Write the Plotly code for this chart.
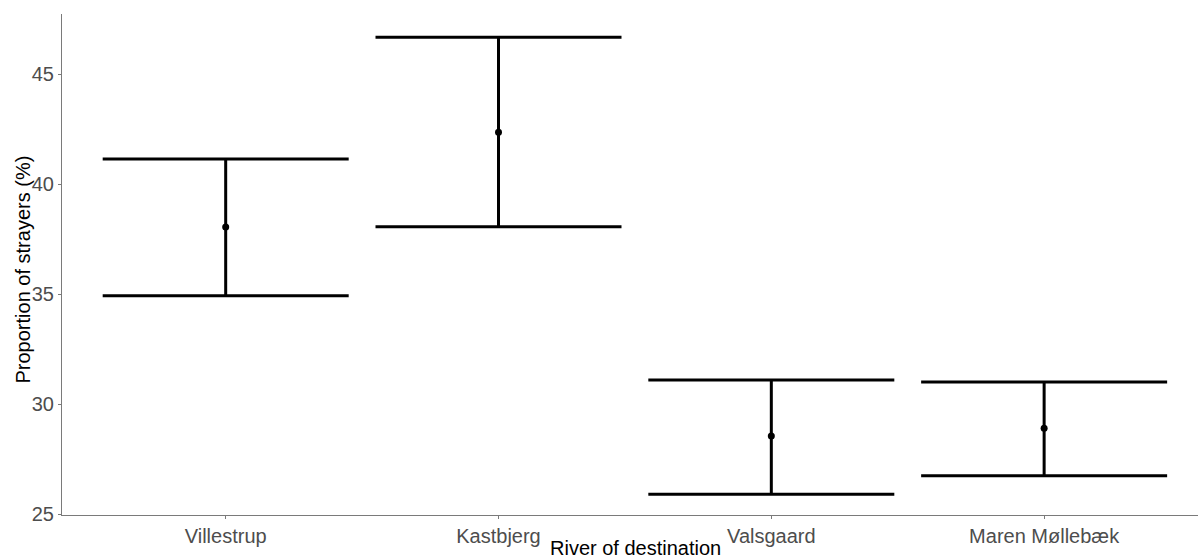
import plotly.graph_objects as go

rivers = ["Villestrup", "Kastbjerg", "Valsgaard", "Maren Møllebæk"]
estimate = [38.05, 42.35, 28.55, 28.9]
lower = [34.92, 38.06, 25.9, 26.74]
upper = [41.14, 46.67, 31.1, 31.01]

xpos = list(range(len(rivers)))
err_plus = [u - e for u, e in zip(upper, estimate)]
err_minus = [e - l for e, l in zip(estimate, lower)]

font_family = "Arial, 'Liberation Sans', sans-serif"

fig = go.Figure()
fig.add_trace(go.Scatter(
    x=xpos, y=estimate, mode="markers",
    marker=dict(color="black", size=7),
    error_y=dict(type="data", symmetric=False, array=err_plus, arrayminus=err_minus,
                 color="black", thickness=3, width=123),
    showlegend=False,
))

fig.update_layout(
    width=1198, height=558,
    margin=dict(l=62, r=0, t=14, b=43),
    plot_bgcolor="white", paper_bgcolor="white",
    font=dict(family=font_family),
    xaxis=dict(
        range=[-0.6, 3.564], tickvals=xpos, ticktext=rivers,
        showgrid=False, zeroline=False,
        showline=True, linecolor="#7a7a7a", linewidth=1,
        ticks="outside", ticklen=3, tickcolor="#7a7a7a",
        tickfont=dict(size=20, color="#4d4d4d", family=font_family),
    ),
    yaxis=dict(
        range=[24.96, 47.73], tickvals=[25, 30, 35, 40, 45],
        showgrid=False, zeroline=False,
        showline=True, linecolor="#7a7a7a", linewidth=1,
        ticks="outside", ticklen=3, tickcolor="#7a7a7a",
        tickfont=dict(size=20, color="#4d4d4d", family=font_family),
    ),
    annotations=[
        dict(
            text="River of destination", xref="paper", yref="paper",
            x=(635 - 62) / 1136, y=0, yshift=-46, xanchor="center", yanchor="bottom",
            showarrow=False, font=dict(size=20, color="black", family=font_family),
        ),
        dict(
            text="Proportion of strayers (%)", xref="paper", yref="paper",
            x=0, xshift=-39, y=0.49, xanchor="center", yanchor="middle", textangle=-90,
            showarrow=False, font=dict(size=20, color="black", family=font_family),
        ),
    ],
)

fig.write_html("out.html")
